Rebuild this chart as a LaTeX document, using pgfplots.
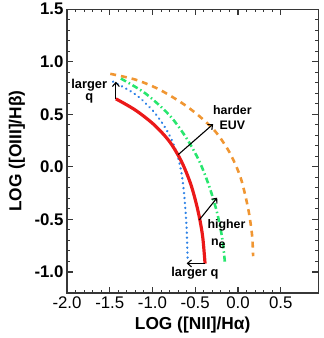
\documentclass[border=0pt]{standalone}
\usepackage{pgfplots}
\pgfplotsset{compat=1.18}
\usepackage{fontspec}
\setmainfont{Liberation Sans}
\usetikzlibrary{arrows.meta}
\definecolor{cred}{RGB}{235,25,25}
\definecolor{corange}{RGB}{240,150,50}
\definecolor{cgreen}{RGB}{40,230,110}
\definecolor{cblue}{RGB}{45,130,230}
\definecolor{cax}{RGB}{55,55,55}
\begin{document}
\begin{tikzpicture}
\begin{axis}[
  scale only axis,
  width=253.2bp, height=286bp,
  xmin=-2, xmax=0.94, ymin=-1.2, ymax=1.5,
  xtick={-2,-1.5,-1,-0.5,0,0.5},
  ytick={-1,-0.5,0,0.5,1,1.5},
  minor x tick num=4, minor y tick num=4,
  xticklabels={-2.0,-1.5,-1.0,-0.5,0.0,0.5},
  yticklabels={\textbf{-1.0},\textbf{-0.5},\textbf{0.0},\textbf{0.5},\textbf{1.0},\textbf{1.5}},
  tick align=inside,
  xtick pos=both, ytick pos=both,
  major tick length=6pt, minor tick length=3.2pt,
  major tick style={draw=cax, line width=1.1pt},
  minor tick style={draw=cax, line width=1pt},
  axis line style={draw=cax, line width=1.2pt},
  tick label style={font=\fontsize{17}{19}\selectfont},
  xlabel={\textbf{LOG ([NII]/Hα)}},
  ylabel={\textbf{LOG ([OIII]/Hβ)}},
  label style={font=\fontsize{17.5}{20}\selectfont},
  xlabel style={at={(axis description cs:0.5,0)}, anchor=center, yshift=-32bp},
  ylabel style={at={(axis description cs:0,0.5)}, anchor=center, yshift=50.5bp},
  clip mode=individual,
]
\addplot[corange, line width=2.6bp, dash pattern=on 6bp off 5bp, smooth] coordinates {
(-1.494,0.885) (-1.2,0.83) (-0.93,0.74) (-0.66,0.61) (-0.463,0.49) (-0.268,0.34) (-0.10,0.14) (0.03,-0.10) (0.12,-0.40) (0.165,-0.65) (0.177,-0.85)};
\addplot[cgreen, line width=2.6bp, dash pattern=on 6bp off 3bp on 1.5bp off 3bp, smooth] coordinates {
(-1.37,0.84) (-1.085,0.70) (-0.80,0.49) (-0.60,0.27) (-0.45,0.05) (-0.33,-0.20) (-0.24,-0.45) (-0.18,-0.70) (-0.152,-0.92)};
\addplot[cblue, line width=2.6bp, line cap=round, dash pattern=on 0.01bp off 5bp, smooth] coordinates {
(-1.46,0.81) (-1.20,0.69) (-0.98,0.52) (-0.82,0.33) (-0.72,0.14) (-0.66,-0.06) (-0.625,-0.30) (-0.60,-0.60) (-0.588,-0.908)};
\addplot[cred, line width=3.2bp, smooth] coordinates {
(-1.428,0.647) (-1.20,0.54) (-0.98,0.40) (-0.80,0.24) (-0.66,0.05) (-0.55,-0.17) (-0.47,-0.41) (-0.415,-0.65) (-0.385,-0.92)};
\draw[black, line width=1.1bp, -{Straight Barb[length=4bp,width=7bp]}] (axis cs:-1.428,0.647) -- (axis cs:-1.428,0.81);
\draw[black, line width=1.1bp, -{Straight Barb[length=4bp,width=7bp]}] (axis cs:-0.698,0.117) -- (axis cs:-0.29,0.407);
\draw[black, line width=1.1bp, -{Straight Barb[length=4bp,width=7bp]}] (axis cs:-0.453,-0.505) -- (axis cs:-0.243,-0.293);
\draw[black, line width=1.1bp, -{Straight Barb[length=4bp,width=7bp]}] (axis cs:-0.385,-0.918) -- (axis cs:-0.60,-0.918);
\node[font=\fontsize{13}{14}\selectfont\bfseries, align=center, inner sep=0] at (axis cs:-1.74,0.72) {larger\\[-1bp]q};
\node[font=\fontsize{12.5}{14}\selectfont\bfseries, align=center, inner sep=0] at (axis cs:-0.065,0.47) {harder\\[1bp]EUV};
\node[font=\fontsize{12.5}{14}\selectfont\bfseries, inner sep=0] at (axis cs:-0.134,-0.56) {higher};
\node[font=\fontsize{12.5}{14}\selectfont\bfseries, inner sep=0] at (axis cs:-0.23,-0.73) {n\raisebox{-0.45ex}{e}};
\node[font=\fontsize{13}{14}\selectfont\bfseries, inner sep=0] at (axis cs:-0.503,-1.013) {larger q};
\path (rel axis cs:0,0) ++(-67.5bp,-45.3bp);
\path (rel axis cs:1,1) ++(5.3bp,6.7bp);
\end{axis}
\end{tikzpicture}
\end{document}
